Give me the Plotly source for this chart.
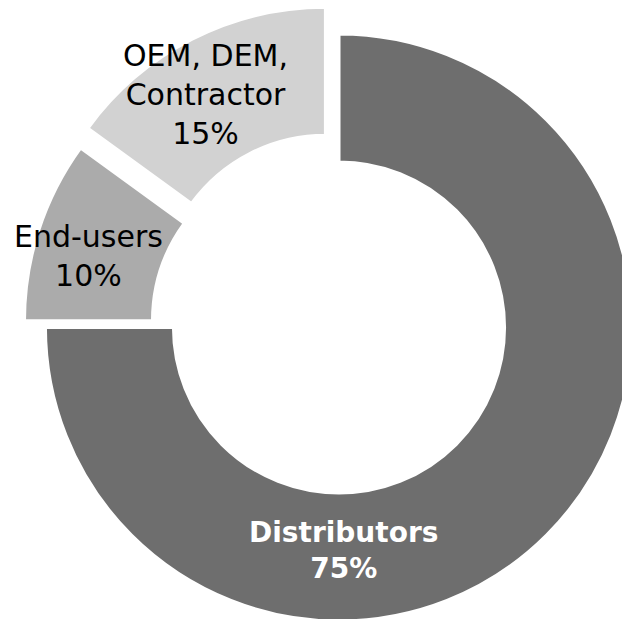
import plotly.graph_objects as go

# ---- data ----
labels = ["Distributors", "End-users", "OEM, DEM,<br>Contractor"]
values = [75, 10, 15]
colors = ["#6e6e6e", "#ababab", "#d2d2d2"]
pulls = [0, 0.075, 0.102]

# label placement (paper coords) and style
label_pos = [(0.5066, 0.1551), (0.1298, 0.6068), (0.3024, 0.8541)]
label_color = ["white", "black", "black"]
label_bold = [True, False, False]

W, H = 678, 651

fig = go.Figure()
fig.add_trace(go.Pie(
    labels=labels,
    values=values,
    sort=False,
    direction="clockwise",
    rotation=0,
    hole=0.564,
    pull=pulls,
    marker=dict(colors=colors, line=dict(color="white", width=3)),
    textinfo="none",
    hoverinfo="label+percent",
    domain=dict(x=[0, 1], y=[0, 647 / H]),
    showlegend=False,
))

for lab, val, (x, y), col, bold in zip(labels, values, label_pos, label_color, label_bold):
    txt = f"{lab}<br>{val}%"
    if bold:
        txt = f"<b>{txt}</b>"
    fig.add_annotation(
        x=x, y=y, xref="paper", yref="paper",
        text=txt, showarrow=False,
        xanchor="center", yanchor="middle",
        font=dict(family="DejaVu Sans", size=28 if bold else 30, color=col),
        align="center",
    )

fig.update_layout(
    width=W, height=H,
    margin=dict(l=0, r=0, t=0, b=0),
    paper_bgcolor="white",
    plot_bgcolor="white",
)

fig.write_html(
    "out.html",
    post_script="document.documentElement.style.overflow='hidden';document.body.style.overflow='hidden';document.body.style.margin='0';",
)
